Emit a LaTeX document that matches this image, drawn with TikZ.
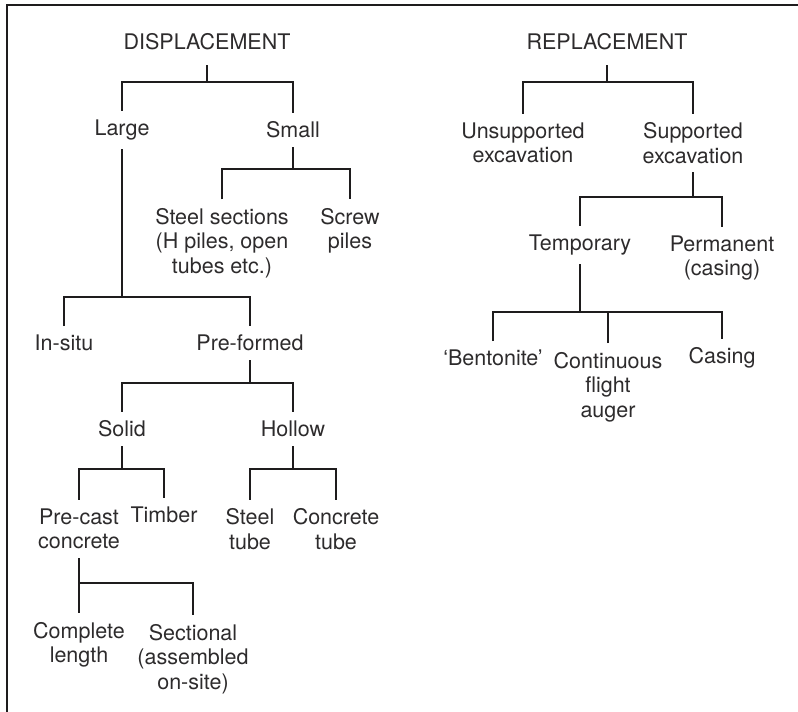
\documentclass[tikz,border=0pt]{standalone}
\usepackage{fontspec}
\setmainfont{TeX Gyre Heros}
\usepackage{tikz}
\usetikzlibrary{calc}
\definecolor{pileInk}{RGB}{30,28,29}
\definecolor{pileText}{RGB}{45,43,44}

\begin{document}
\begin{tikzpicture}[x=0.5pt, y=-0.5pt,
  lbl/.style={font=\fontsize{10.75}{12.2}\selectfont, text=pileText, align=center,
    inner sep=0pt, outer xsep=0pt, outer ysep=4.5pt},
  head/.style={lbl, outer ysep=7.5pt},
  branch/.style={draw=pileInk, line width=0.9pt}]
\useasboundingbox (0,0) rectangle (798,712);
\draw[pileInk, line width=0.9pt] (798,5) -- (7,5) -- (7,712);

% displacement piles
\node[head] (dis) at (207,42) {DISPLACEMENT};
\node[lbl] (large) at (122,130) {Large};
\node[lbl] (small) at (293,130) {Small};
\node[lbl] (steel) at (222,243) {Steel sections\\(H piles, open\\tubes etc.)};
\node[lbl] (screw) at (350,231) {Screw\\piles};
\node[lbl] (insitu) at (64,343) {In-situ};
\node[lbl] (preformed) at (250,343) {Pre-formed};
\node[lbl] (solid) at (122,429) {Solid};
\node[lbl] (hollow) at (293,429) {Hollow};
\node[lbl] (precast) at (79,529) {Pre-cast\\concrete};
\node[lbl] (timber) at (164,515) {Timber};
\node[lbl] (steeltube) at (250,529) {Steel\\tube};
\node[lbl] (conctube) at (336,529) {Concrete\\tube};
\node[lbl] (complete) at (79,645) {Complete\\length};
\node[lbl] (sectional) at (193,659) {Sectional\\(assembled\\on-site)};

\coordinate (jdis) at (dis.south |- 0,82);
\coordinate (jsmall) at (small.south |- 0,169);
\coordinate (jlarge) at (large.south |- 0,297);
\coordinate (jpre) at (preformed.south |- 0,383);
\coordinate (jsolid) at (solid.south |- 0,469);
\coordinate (jhollow) at (hollow.south |- 0,469);
\coordinate (jcast) at (precast.south |- 0,583);

\draw[branch] (dis.south) -- (jdis) (large.north) |- (jdis) -| (small.north);
\draw[branch] (small.south) -- (jsmall) (steel.north) |- (jsmall) -| (screw.north);
\draw[branch] (large.south) -- (jlarge) (insitu.north) |- (jlarge) -| (preformed.north);
\draw[branch] (preformed.south) -- (jpre) (solid.north) |- (jpre) -| (hollow.north);
\draw[branch] (solid.south) -- (jsolid) (precast.north) |- (jsolid) -| (timber.north);
\draw[branch] (hollow.south) -- (jhollow) (steeltube.north) |- (jhollow) -| (conctube.north);
\draw[branch] (precast.south) -- (complete.north) (jcast) -| (sectional.north);

% replacement piles
\node[head] (rep) at (607,42) {REPLACEMENT};
\node[lbl] (unsup) at (523,143) {Unsupported\\excavation};
\node[lbl] (sup) at (693,143) {Supported\\excavation};
\node[lbl] (temp) at (580,245) {Temporary};
\node[lbl] (perm) at (722,258) {Permanent\\(casing)};
\node[lbl] (bent) at (493,358) {‘Bentonite’};
\node[lbl] (cfa) at (608,387) {Continuous\\flight\\auger};
\node[lbl] (casing) at (722,358) {Casing};

\coordinate (jrep) at (rep.south |- 0,82);
\coordinate (jsup) at (sup.south |- 0,197);
\coordinate (jtemp) at (temp.south |- 0,312);

\draw[branch] (rep.south) -- (jrep) (unsup.north) |- (jrep) -| (sup.north);
\draw[branch] (sup.south) -- (jsup) (temp.north) |- (jsup) -| (perm.north);
\draw[branch] (temp.south) -- (jtemp) (bent.north) |- (jtemp) -| (casing.north)
  (cfa.north) -- (cfa.north |- jtemp);
\end{tikzpicture}
\end{document}
